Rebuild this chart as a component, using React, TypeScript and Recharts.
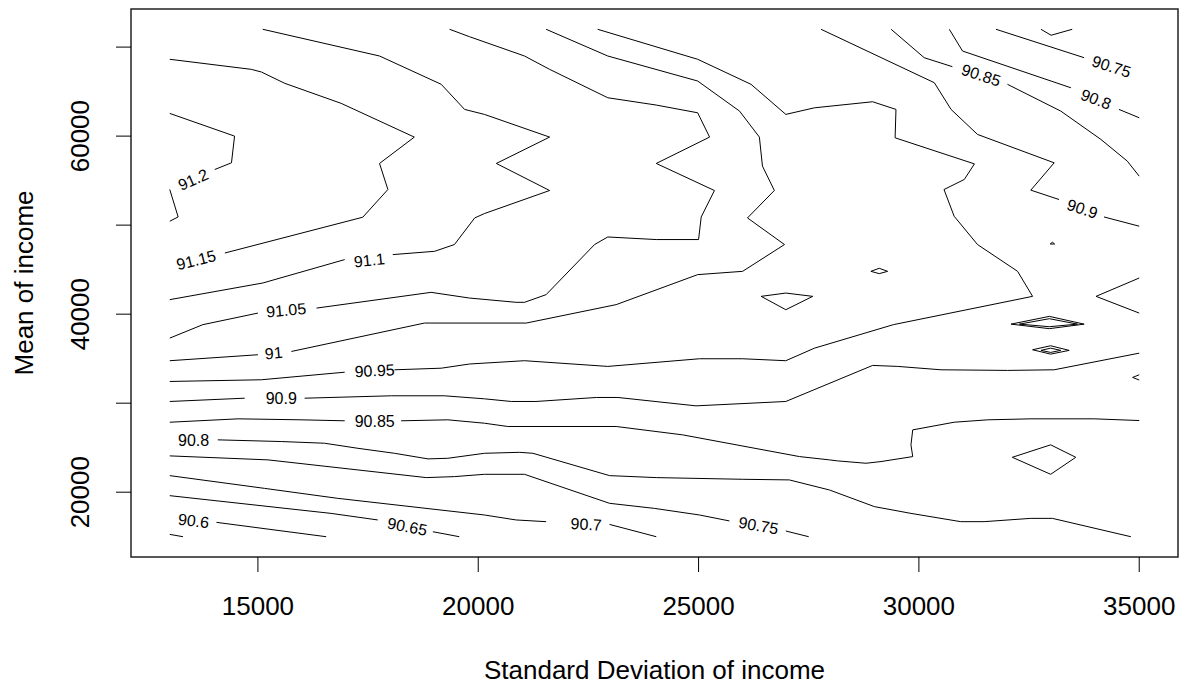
import { ReferenceArea, Scatter, ScatterChart, XAxis, YAxis } from "recharts";

type Pt = [number, number]; // [sd of income, mean of income]

const xTicks = [15000, 20000, 25000, 30000, 35000];
const yTicks = [20000, 30000, 40000, 50000, 60000, 70000];
const yTickLabels = [20000, 40000, 60000]; // R drops the overlapping ones

// contour lines, split where R cut them for a label
const c912a: Pt[] = [[13000, 62550], [14470, 60000], [14400, 57000], [14020, 56250]];
const c912b: Pt[] = [[13000, 54000], [13190, 50920], [13000, 50440]];
const c9115: Pt[] = [[13000, 68630], [14850, 67500], [15080, 67200], [15610, 65930], [16890, 63680], [18550, 59890], [17760, 56930], [17950, 54000], [17380, 50890], [14250, 46870]];
const c911a: Pt[] = [[15110, 72000], [17760, 69000], [19160, 65820], [19690, 63000], [20140, 62440], [21620, 59890], [20410, 56930], [21620, 53890], [20140, 51300], [19920, 50810], [19460, 47820], [19010, 47060], [18060, 46690]];
const c911b: Pt[] = [[16970, 46130], [15110, 43500], [13000, 41630]];
const c9105a: Pt[] = [[19350, 72000], [19800, 71170], [21050, 69000], [21620, 67500], [22940, 64310], [24040, 63490], [24980, 62620], [25250, 59890], [24040, 56930], [25360, 53890], [25060, 50920], [25000, 48380], [24040, 48380], [22940, 48670], [22640, 47820], [21540, 42190], [21050, 41330], [20860, 41330], [19800, 41810], [18930, 42450], [16330, 40680]];
const c9105b: Pt[] = [[15000, 40120], [13750, 38820], [13000, 37310]];
const c91a: Pt[] = [[21540, 72000], [22940, 69000], [24980, 66190], [25930, 62810], [26380, 59890], [26450, 56630], [26720, 53890], [26110, 50810], [26950, 47820], [26000, 44810], [24980, 44440], [23130, 41070], [21090, 39000], [18780, 39000], [15760, 35810]];
const c91b: Pt[] = [[15000, 35440], [13000, 34770]];
const c9095a: Pt[] = [[22710, 72000], [24980, 68630], [26190, 65820], [26980, 62440], [27630, 63180], [28950, 63860], [29480, 63000], [29460, 59810], [31260, 56880], [31030, 55130], [30570, 54000], [30800, 51000], [31330, 47820], [32240, 44810], [32580, 42000], [29420, 38820], [27630, 36180], [26980, 34770], [26000, 34990], [25020, 34990], [22940, 34130], [21050, 34770], [19800, 34400], [19160, 33930], [18100, 33750]];
const c9095b: Pt[] = [[16970, 33480], [15080, 32630], [13000, 32440]];
const c909a: Pt[] = [[27780, 72000], [30350, 66000], [30730, 63000], [31330, 60190], [33070, 57000], [32540, 53930], [33180, 52880]];
const c909b: Pt[] = [[34200, 50920], [35000, 49880]];
const c909c: Pt[] = [[13000, 30190], [14700, 30560]];
const c909d: Pt[] = [[16060, 30560], [18030, 30830], [19230, 30830], [20140, 30490], [20750, 30190], [21310, 30190], [22680, 30640], [23170, 30640], [24940, 29700], [26980, 30190], [28950, 34240], [29520, 34130], [30500, 33750], [32010, 33680], [33070, 33750], [35000, 35620]];
const c9085a: Pt[] = [[29370, 72000], [30120, 68810], [30760, 67800]];
const c9085b: Pt[] = [[32010, 65820], [33220, 62810], [34130, 59630], [34730, 57190], [35000, 55500]];
const c9085c: Pt[] = [[13000, 27860], [14550, 28240], [15980, 28130], [16970, 28020]];
const c9085d: Pt[] = [[18250, 28020], [19310, 28130], [20140, 27750], [20670, 27380], [23130, 27380], [24640, 26440], [27290, 24000], [27970, 23630], [28150, 23520], [28800, 23250], [29140, 23440], [29860, 24000], [29820, 25320], [29860, 27000], [30800, 27860], [31560, 28130], [32540, 28240], [33980, 28240], [35000, 28050]];
const c908a: Pt[] = [[30690, 72000], [30990, 69560], [33450, 65430]];
const c908b: Pt[] = [[34540, 63000], [35000, 62060]];
const c908c: Pt[] = [[14090, 25880], [15530, 25690], [16510, 25500], [17270, 24930], [18100, 24370], [18860, 23740], [19310, 23810], [20140, 24370], [20940, 24480], [21240, 24370], [22980, 21860], [24040, 21640], [26000, 21450], [27060, 21380], [27970, 20250], [28990, 18380], [29820, 17620], [30950, 16690], [31480, 16690], [32540, 17060], [33030, 17060], [34810, 15000]];
const c9075a: Pt[] = [[31750, 72000], [33750, 68810]];
const c9075b: Pt[] = [[13000, 24080], [15230, 23630], [17270, 22500], [18820, 21640], [19460, 21750], [20140, 22010], [21050, 22010], [22980, 18750], [24000, 18180], [25020, 17440], [25700, 16770]];
const c9075c: Pt[] = [[26980, 15640], [27500, 15000]];
const c907a: Pt[] = [[32770, 72000], [33000, 71330], [33480, 72000]];
const c907b: Pt[] = [[13000, 21860], [15150, 20430], [16810, 19310], [20140, 17440], [20860, 16880], [21540, 16690]];
const c907c: Pt[] = [[22980, 16380], [24040, 15000]];
const c9065a: Pt[] = [[13000, 19610], [16660, 17620], [17720, 16880]];
const c9065b: Pt[] = [[18970, 15560], [19570, 15000]];
const c906: Pt[] = [[14060, 16610], [16550, 15000]];
const c9055: Pt[] = [[13000, 15260], [13300, 15000]];

// small closed pieces
const loopA: Pt[] = [[26420, 42000], [26980, 42370], [27590, 42000], [26980, 40500], [26420, 42000]];
const loopB: Pt[] = [[28910, 44810], [29100, 45150], [29290, 44810], [29100, 44550], [28910, 44810]];
const loopC: Pt[] = [[32980, 47880], [33030, 48080], [33080, 47880], [32980, 47880]];
const wedgeR: Pt[] = [[35000, 44060], [34020, 42000], [35000, 40120]];
const lensOuter: Pt[] = [[32090, 38880], [32960, 39750], [33750, 38880], [32960, 38370], [32090, 38880]];
const lensInner: Pt[] = [[32280, 38880], [32960, 39490], [33600, 38880], [32960, 38590], [32280, 38880]];
const lensSmallOuter: Pt[] = [[32580, 36000], [32990, 36450], [33410, 35930], [32990, 35510], [32580, 36000]];
const lensSmallInner: Pt[] = [[32770, 35930], [32990, 36180], [33220, 35930], [32990, 35700], [32770, 35930]];
const wedgeSmall: Pt[] = [[35000, 33190], [34850, 32890], [35000, 32600]];
const diamond: Pt[] = [[32120, 23920], [32990, 25320], [33560, 23920], [32990, 22010], [32120, 23920]];

const contours: Pt[][] = [
  c912a, c912b, c9115, c911a, c911b, c9105a, c9105b, c91a, c91b, c9095a, c9095b,
  c909a, c909b, c909c, c909d, c9085a, c9085b, c9085c, c9085d, c908a, c908b, c908c,
  c9075a, c9075b, c9075c, c907a, c907b, c907c, c9065a, c9065b, c906, c9055,
  loopA, loopB, loopC, wedgeR, lensOuter, lensInner, lensSmallOuter, lensSmallInner, wedgeSmall, diamond,
];

const contourLabels = [
  { x: 13530, y: 55100, text: "91.2", angle: -24 },
  { x: 13600, y: 46070, text: "91.15", angle: -14 },
  { x: 17530, y: 46050, text: "91.1", angle: -6 },
  { x: 15640, y: 40430, text: "91.05", angle: -5 },
  { x: 15360, y: 35620, text: "91", angle: -5 },
  { x: 17650, y: 33640, text: "90.95", angle: -3 },
  { x: 15530, y: 30560, text: "90.9", angle: 0 },
  { x: 17650, y: 27940, text: "90.85", angle: 0 },
  { x: 13540, y: 25770, text: "90.8", angle: 0 },
  { x: 26360, y: 16240, text: "90.75", angle: 10 },
  { x: 22450, y: 16380, text: "90.7", angle: 3 },
  { x: 18390, y: 16125, text: "90.65", angle: 11 },
  { x: 13540, y: 16770, text: "90.6", angle: 7 },
  { x: 33710, y: 51820, text: "90.9", angle: 18 },
  { x: 31410, y: 66830, text: "90.85", angle: 18 },
  { x: 34020, y: 64130, text: "90.8", angle: 21 },
  { x: 34370, y: 67800, text: "90.75", angle: 18 },
];

const FONT = "'Liberation Sans', Arial, sans-serif";
const toXY = (pts: Pt[]) => pts.map(([x, y]) => ({ x, y }));

const XTick = ({ x, y, payload }: any) => (
  <text x={x} y={y + 41} textAnchor="middle" fontSize={26} fontFamily={FONT} fill="#000">
    {payload.value}
  </text>
);

const YTick = ({ x, y, payload }: any) => {
  if (!yTickLabels.includes(payload.value)) return <g />;
  const bx = x - 25;
  return (
    <text x={bx} y={y} transform={`rotate(-90, ${bx}, ${y})`} textAnchor="middle" fontSize={26} fontFamily={FONT} fill="#000">
      {payload.value}
    </text>
  );
};

const LabelShape = (props: any) => {
  const { cx, cy, payload } = props;
  return (
    <text
      x={cx}
      y={cy}
      transform={`rotate(${payload.angle}, ${cx}, ${cy})`}
      textAnchor="middle"
      dominantBaseline="central"
      fontSize={16}
      fontFamily={FONT}
      fill="#000"
    >
      {payload.text}
    </text>
  );
};

export default function App() {
  return (
    <div style={{ position: "absolute", left: 0, top: 0, width: 1181, height: 685, background: "#fff" }}>
      <ScatterChart width={1181} height={685} margin={{ top: 9, right: 3, bottom: 0, left: 0 }}>
        <XAxis
          type="number"
          dataKey="x"
          domain={[12120, 35880]}
          ticks={xTicks}
          interval={0}
          allowDataOverflow
          height={128}
          tickSize={15}
          tickLine={{ stroke: "#000" }}
          axisLine={false}
          tick={<XTick />}
          label={({ viewBox }: any) => (
            <text
              x={viewBox.x + viewBox.width / 2}
              y={viewBox.y + 122}
              textAnchor="middle"
              fontSize={26}
              fontFamily={FONT}
              fill="#000"
            >
              Standard Deviation of income
            </text>
          )}
        />
        <YAxis
          type="number"
          dataKey="y"
          domain={[12720, 74280]}
          ticks={yTicks}
          interval={0}
          allowDataOverflow
          width={131}
          tickSize={15}
          tickLine={{ stroke: "#000" }}
          axisLine={false}
          tick={<YTick />}
          label={({ viewBox }: any) => {
            const cx = 33;
            const cy = viewBox.y + viewBox.height / 2;
            return (
              <text
                x={cx}
                y={cy}
                transform={`rotate(-90, ${cx}, ${cy})`}
                textAnchor="middle"
                fontSize={26}
                fontFamily={FONT}
                fill="#000"
              >
                Mean of income
              </text>
            );
          }}
        />
        <ReferenceArea
          x1={12120}
          x2={35880}
          y1={12720}
          y2={74280}
          fill="none"
          stroke="#222"
          strokeWidth={1.5}
          ifOverflow="visible"
        />
        {contours.map((pts, i) => (
          <Scatter
            key={i}
            data={toXY(pts)}
            line={{ stroke: "#000", strokeWidth: 1 }}
            lineType="joint"
            shape={() => <g />}
            isAnimationActive={false}
          />
        ))}
        <Scatter data={contourLabels} shape={LabelShape} isAnimationActive={false} />
      </ScatterChart>
    </div>
  );
}
